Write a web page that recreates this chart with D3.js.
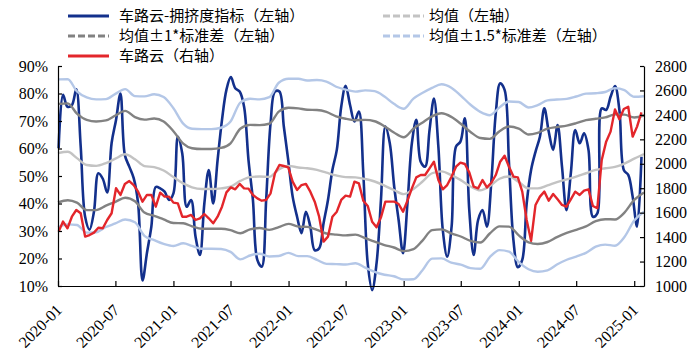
<!doctype html>
<html lang="zh">
<head>
<meta charset="utf-8">
<title>车路云-拥挤度指标</title>
<style>
  body { margin: 0; background: #fff; }
  svg { display: block; }
</style>
</head>
<body>
<svg id="chart" width="698" height="363"></svg>

<script src="https://d3js.org/d3.v7.min.js"></script>
<script>
// weekly series, one reading every two weeks from 2020-01-03
const congestion = [
  60.1, 79.5, 75.2, 75.8, 81.5, 60.7, 35.2, 30.5, 37, 51,
  49, 44, 62, 70.4, 80, 57.6, 53.4, 49.2, 40, 12,
  22, 31.6, 46, 45.5, 44.3, 41.3, 43.7, 64.3, 58.2, 38.8,
  41.3, 28, 21.3, 40, 52.2, 40, 55.8, 70.4, 81.3, 86,
  81.9, 80.7, 75.2, 55.8, 41.3, 19.5, 17, 41.3, 69.2, 80.7,
  80.7, 68, 55.8, 42.5, 35.2, 29.2, 37, 31.6, 23, 23.7,
  32.8, 41.3, 52.2, 59.5, 75.2, 82.8, 75.8, 69.8, 73.4, 51,
  18.2, 8.5, 18.2, 41.3, 68, 61.9, 46.1, 34, 21.9, 40,
  61.9, 70.4, 55.2, 53.4, 66.7, 78.2, 60.7, 30.4, 20.7, 31.6,
  60.7, 62.5, 71, 37.6, 21.3, 34, 37.6, 31.6, 48, 72.8,
  83.7, 81.3, 54.6, 26.7, 16.8, 19.5, 40, 52.2, 58.8, 64.3,
  74.6, 66.1, 59.5, 68.5, 53.4, 37.6, 51, 66.7, 61.9, 65.5,
  59.5, 35.2, 36.4, 74.6, 74, 78.8, 82.7, 74, 52.2, 50.4,
  42.5, 31.6, 57
];

const cheluyun = [
  1445, 1527, 1472, 1567, 1622, 1595, 1404, 1417, 1437, 1477,
  1472, 1540, 1595, 1800, 1745, 1835, 1859, 1826, 1772, 1690,
  1745, 1745, 1649, 1764, 1731, 1731, 1682, 1676, 1567, 1567,
  1581, 1540, 1554, 1589, 1554, 1513, 1567, 1649, 1766, 1807,
  1791, 1835, 1799, 1797, 1745, 1717, 1698, 1704, 1758, 1922,
  1990, 1982, 1971, 1854, 1786, 1826, 1835, 1772, 1690, 1567,
  1363, 1404, 1567, 1608, 1704, 1739, 1731, 1854, 1840, 1698,
  1655, 1526, 1480, 1562, 1690, 1690, 1690, 1671, 1608, 1698,
  1799, 1889, 1908, 1908, 1963, 2017, 1867, 1791, 1826, 1895,
  1976, 2009, 1998, 1930, 1813, 1799, 1867, 1807, 1845, 1908,
  2017, 2066, 1976, 1895, 1889, 1772, 1540, 1370, 1663, 1731,
  1772, 1698, 1753, 1709, 1663, 1649, 1709, 1772, 1745, 1780,
  1791, 1655, 1636, 2031, 2181, 2263, 2445, 2364, 2448, 2467,
  2222, 2304, 2420
];

// monthly mean and standard deviation of the index, 2020-01 .. 2025-02
const bandMean = [
  58.3, 58.8, 56.5, 54.0, 53.7, 54.7, 56.3, 57.9, 56.1, 53.6,
  53.2, 52.0, 49.6, 47.3, 45.9, 45.3, 45.3, 45.5, 46.1, 48.2,
  49.6, 49.8, 49.7, 52.4, 53.7, 53.1, 52.8, 52.2, 51.2, 50.2,
  49.6, 49.5, 48.9, 48.0, 46.5, 44.9, 43.4, 45.3, 47.9, 51.0,
  51.7, 50.3, 48.5, 46.2, 44.8, 46.3, 49.0, 49.8, 47.8, 45.5,
  45.5, 46.6, 47.8, 48.8, 49.8, 51.0, 52.2, 52.8, 53.3, 54.5,
  56.3, 58.0
];
const bandStd = [
  17.9, 17.6, 16.2, 16.4, 16.1, 15.5, 15.7, 15.8, 15.3, 16.9,
  17.7, 17.8, 16.7, 14.5, 14.2, 14.5, 14.5, 14.7, 15.8, 19.0,
  19.0, 18.7, 19.3, 21.0, 21.1, 21.5, 21.3, 21.8, 22.1, 21.5,
  21.2, 20.8, 21.5, 21.9, 21.6, 20.9, 20.7, 21.9, 21.5, 20.7,
  21.1, 21.2, 20.5, 19.8, 19.0, 17.2, 17.3, 18.2, 19.4, 19.6,
  20.2, 20.6, 20.0, 19.5, 19.4, 19.3, 18.6, 18.5, 19.1, 17.8,
  15.0, 14.0
];

const leftTicks = [10, 20, 30, 40, 50, 60, 70, 80, 90];
const rightTicks = [1000, 1200, 1400, 1600, 1800, 2000, 2200, 2400, 2600, 2800];
const xTickLabels = ['2020-01', '2020-07', '2021-01', '2021-07', '2022-01', '2022-07',
  '2023-01', '2023-07', '2024-01', '2024-07', '2025-01'];
const legendLabels = ['车路云-拥挤度指标（左轴）', '均值（左轴）', '均值±1*标准差（左轴）',
  '均值±1.5*标准差（左轴）', '车路云（右轴）'];

const chart = d3.select('#chart');
const plotLeft = 58, plotRight = 644, plotTop = 66, plotBottom = 286;
const serif = '"Liberation Serif", "Times New Roman", serif';
const cjk = '"Noto Sans CJK SC", "Noto Sans", sans-serif';

const colBlue = '#13308c', colRed = '#e3262b';
const colMean = '#c3c3c3', colSd1 = '#828282', colSd15 = '#b4c7e7';

const parseMonth = d3.timeParse('%Y-%m');
const start = new Date(2020, 0, 3);
const weekDates = congestion.map((d, i) => d3.timeDay.offset(start, 14 * i));
const monthDates = bandMean.map((d, i) => d3.timeMonth.offset(new Date(2020, 0, 1), i));

const x = d3.scaleTime()
  .domain([new Date(2020, 0, 1), new Date(2025, 1, 1)])
  .range([plotLeft, plotRight]);
const yL = d3.scaleLinear().domain([10, 90]).range([plotBottom, plotTop]);
const yR = d3.scaleLinear().domain([1000, 2800]).range([plotBottom, plotTop]);

const lineL = d3.line().x(d => x(d[0])).y(d => yL(d[1]));
const lineR = d3.line().x(d => x(d[0])).y(d => yR(d[1]));

function band(k) {
  return monthDates.map((d, i) => [d, bandMean[i] + k * bandStd[i]]);
}

const plot = chart.append('g');

plot.append('path')
  .datum(weekDates.map((d, i) => [d, congestion[i]]))
  .attr('fill', 'none')
  .attr('stroke', colBlue)
  .attr('stroke-width', 2.6)
  .attr('stroke-linejoin', 'round')
  .attr('d', lineL.curve(d3.curveCatmullRom.alpha(0.5)));

const bands = [
  { k: 0, color: colMean },
  { k: 1, color: colSd1 },
  { k: -1, color: colSd1 },
  { k: 1.5, color: colSd15 },
  { k: -1.5, color: colSd15 },
];
bands.forEach(b => {
  plot.append('path')
    .datum(band(b.k))
    .attr('fill', 'none')
    .attr('stroke', b.color)
    .attr('stroke-width', 2.4)
    .attr('d', lineL.curve(d3.curveMonotoneX));
});

plot.append('path')
  .datum(weekDates.map((d, i) => [d, cheluyun[i]]))
  .attr('fill', 'none')
  .attr('stroke', colRed)
  .attr('stroke-width', 2.4)
  .attr('stroke-linejoin', 'round')
  .attr('d', lineR.curve(d3.curveLinear));

// axes
const gx = chart.append('g')
  .attr('transform', `translate(0,${plotBottom})`)
  .call(d3.axisBottom(x)
    .tickValues(xTickLabels.map(parseMonth))
    .tickSize(-5)
    .tickSizeOuter(0)
    .tickFormat(''));

chart.append('g')
  .selectAll('text')
  .data(xTickLabels)
  .join('text')
  .attr('transform', d => `translate(${x(parseMonth(d)) + 5},${plotBottom + 25}) rotate(-45)`)
  .attr('text-anchor', 'end')
  .attr('font-family', serif)
  .attr('font-size', 16)
  .attr('fill', '#000')
  .text(d => d);

const gl = chart.append('g')
  .attr('transform', `translate(${plotLeft},0)`)
  .call(d3.axisLeft(yL)
    .tickValues(leftTicks)
    .tickSize(-4)
    .tickSizeOuter(0)
    .tickPadding(10)
    .tickFormat(d => d + '%'));

const gr = chart.append('g')
  .attr('transform', `translate(${plotRight},0)`)
  .call(d3.axisRight(yR)
    .tickValues(rightTicks)
    .tickSize(-4)
    .tickSizeOuter(0)
    .tickPadding(11)
    .tickFormat(d3.format('d')));

[gx, gl, gr].forEach(g => {
  g.selectAll('path, line').attr('stroke', '#000').attr('stroke-width', 1.2);
  g.selectAll('text').attr('font-family', serif).attr('font-size', 16).attr('fill', '#000');
});

// legend
const legendStyles = [
  { color: colBlue, dash: null },
  { color: colMean, dash: '7,3' },
  { color: colSd1, dash: '7,3' },
  { color: colSd15, dash: '7,3' },
  { color: colRed, dash: null },
];
const legend = chart.append('g');
legendLabels.forEach((label, i) => {
  const lx = i === 4 ? 68 : (i % 2 ? 383 : 68);
  const ly = 16 + 20 * Math.floor(i / 2);
  const item = legend.append('g').attr('transform', `translate(${lx},${ly})`);
  item.append('line')
    .attr('x1', 0).attr('x2', 41)
    .attr('stroke', legendStyles[i].color)
    .attr('stroke-width', 3)
    .attr('stroke-dasharray', legendStyles[i].dash);
  item.append('text')
    .attr('x', i % 2 && i !== 4 ? 46 : 51)
    .attr('y', 5)
    .attr('font-family', cjk)
    .attr('font-size', 15)
    .attr('fill', '#000')
    .text(label);
});
</script>
</body>
</html>
